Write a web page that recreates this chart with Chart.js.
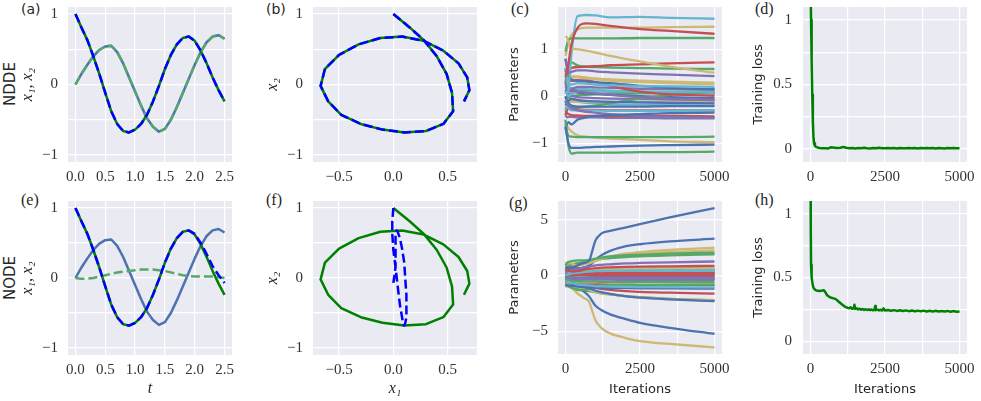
<!DOCTYPE html>
<html><head><meta charset="utf-8">
<script src="https://cdn.jsdelivr.net/npm/chart.js@4.4.0/dist/chart.umd.min.js"></script>
<style>
body{margin:0;background:#fff;width:981px;height:401px;overflow:hidden;position:relative;}
.lab{position:absolute;color:#262626;line-height:1;white-space:nowrap;}
.rot{position:absolute;transform:translate(-50%,-50%) rotate(-90deg);font-family:'DejaVu Sans',sans-serif;font-size:15px;color:#262626;white-space:nowrap;line-height:1;}
</style></head><body>
<div class="lab" style="left:21px;top:2px;font-family:'DejaVu Sans',sans-serif;font-size:14px">(a)</div>
<div class="lab" style="left:266px;top:2px;font-family:'DejaVu Sans',sans-serif;font-size:14px">(b)</div>
<div class="lab" style="left:511px;top:1px;font-family:'Liberation Serif',serif;font-size:16px">(c)</div>
<div class="lab" style="left:755px;top:1px;font-family:'Liberation Serif',serif;font-size:16px">(d)</div>
<div class="lab" style="left:21px;top:192px;font-family:'Liberation Serif',serif;font-size:16px">(e)</div>
<div class="lab" style="left:266px;top:192px;font-family:'Liberation Serif',serif;font-size:16px">(f)</div>
<div class="lab" style="left:509px;top:195px;font-family:'Liberation Serif',serif;font-size:16px">(g)</div>
<div class="lab" style="left:755px;top:192px;font-family:'Liberation Serif',serif;font-size:16px">(h)</div>
<div class="rot" style="left:10px;top:84px">NDDE</div>
<div class="rot" style="left:10px;top:278px">NODE</div>
<script>
// ---------------- DATA ----------------
const t = [0,0.1,0.2,0.3,0.4,0.5,0.6,0.7,0.8,0.9,1.0,1.1,1.2,1.3,1.4,1.5,1.6,1.7,1.8,1.9,2.0,2.1,2.2,2.3,2.4,2.5];
const x1True = [0,0.15,0.28,0.40,0.49,0.54,0.55,0.46,0.30,0.10,-0.10,-0.30,-0.48,-0.60,-0.67,-0.63,-0.50,-0.32,-0.12,0.08,0.28,0.46,0.60,0.68,0.70,0.65];
const x2True = [1.0,0.81,0.63,0.40,0.15,-0.12,-0.38,-0.56,-0.66,-0.68,-0.64,-0.56,-0.43,-0.24,-0.02,0.22,0.42,0.57,0.66,0.68,0.62,0.48,0.30,0.10,-0.08,-0.24];
const x1NDDE = [0,0.15,0.28,0.40,0.49,0.54,0.55,0.46,0.30,0.10,-0.10,-0.30,-0.48,-0.60,-0.67,-0.63,-0.50,-0.32,-0.12,0.08,0.28,0.46,0.60,0.68,0.70,0.65];
const x2NDDE = [1.0,0.81,0.63,0.40,0.15,-0.12,-0.38,-0.56,-0.66,-0.68,-0.64,-0.56,-0.43,-0.24,-0.02,0.22,0.42,0.57,0.66,0.68,0.62,0.48,0.30,0.10,-0.08,-0.24];
const x1NODE = [0,-0.01,-0.01,0.0,0.02,0.04,0.06,0.08,0.09,0.10,0.11,0.12,0.12,0.12,0.11,0.10,0.08,0.06,0.04,0.03,0.02,0.02,0.02,0.02,0.01,0.0];
const x2NODE = [1.0,0.81,0.63,0.40,0.15,-0.12,-0.38,-0.56,-0.66,-0.68,-0.64,-0.56,-0.43,-0.24,-0.02,0.22,0.42,0.57,0.66,0.68,0.63,0.50,0.34,0.17,0.04,-0.07];

const itC = [0,50,100,200,400,700,1000,1500,2500,3500,5000];
const paramsC = [
 [-0.65,-0.85,-1.0,-1.1,-1.1,-1.09,-1.08,-1.07,-1.05,-1.04,-1.03],
 [-0.5,-0.8,-1.05,-1.22,-1.2,-1.2,-1.2,-1.2,-1.19,-1.19,-1.18],
 [0.4,0.5,0.7,1.1,1.45,1.55,1.54,1.5,1.43,1.39,1.33],
 [0.8,0.65,0.5,0.52,0.55,0.55,0.53,0.51,0.48,0.46,0.43],
 [1.28,1.25,1.15,1.02,1.0,0.97,0.93,0.86,0.74,0.63,0.5],
 [0.1,0.05,0.15,0.9,1.7,1.73,1.72,1.68,1.69,1.67,1.65],
 [-0.7,-0.6,-0.55,-0.6,-0.5,-0.45,-0.42,-0.4,-0.38,-0.36,-0.35],
 [0.95,1.1,1.2,1.23,1.23,1.23,1.23,1.23,1.24,1.24,1.24],
 [0.55,0.5,0.55,0.6,0.62,0.63,0.64,0.66,0.68,0.7,0.72],
 [-0.1,-0.15,-0.2,-0.25,-0.3,-0.33,-0.35,-0.38,-0.42,-0.44,-0.46],
 [0.85,1.0,1.15,1.3,1.42,1.46,1.46,1.46,1.46,1.47,1.48],
 [0.6,0.4,0.3,0.25,0.28,0.27,0.25,0.23,0.22,0.21,0.2],
 [0.8,0.6,0.45,0.36,0.33,0.31,0.3,0.28,0.22,0.18,0.15],
 [0.3,0.5,0.65,0.72,0.66,0.63,0.62,0.61,0.6,0.59,0.58],
 [0.6,0.45,0.35,0.33,0.34,0.33,0.3,0.22,0.1,0.04,0.01],
 [0.2,0.15,0.1,0.12,0.1,0.08,0.06,0.03,-0.02,-0.05,-0.08],
 [0.5,0.45,0.42,0.42,0.42,0.4,0.38,0.36,0.33,0.31,0.29],
 [-0.3,-0.2,-0.25,-0.3,-0.3,-0.3,-0.3,-0.31,-0.31,-0.31,-0.3],
 [0.0,-0.1,-0.15,-0.2,-0.22,-0.22,-0.22,-0.22,-0.22,-0.21,-0.21],
 [-0.6,-0.75,-0.84,-0.86,-0.87,-0.87,-0.87,-0.87,-0.87,-0.87,-0.86],
 [-0.4,-0.3,-0.27,-0.28,-0.28,-0.29,-0.29,-0.3,-0.3,-0.3,-0.3],
 [0.3,0.15,0.1,0.15,0.2,0.2,0.19,0.18,0.16,0.15,0.14],
 [-0.55,-0.62,-0.68,-0.75,-0.83,-0.86,-0.88,-0.9,-0.93,-0.96,-0.98],
 [0.1,0.05,0.0,0.05,0.1,0.1,0.1,0.1,0.1,0.1,0.1],
 [-0.2,-0.15,-0.1,-0.05,-0.08,-0.1,-0.11,-0.12,-0.13,-0.14,-0.15],
 [-0.1,-0.2,-0.25,-0.25,-0.24,-0.22,-0.2,-0.15,-0.05,0.03,0.1],
 [-0.3,-0.35,-0.38,-0.4,-0.41,-0.42,-0.42,-0.42,-0.42,-0.42,-0.43],
 [-0.05,0.0,0.05,0.02,-0.02,-0.03,-0.04,-0.05,-0.06,-0.07,-0.08],
 [0.2,0.3,0.38,0.4,0.4,0.38,0.36,0.33,0.3,0.28,0.26],
 [0.5,0.3,0.2,0.18,0.16,0.15,0.14,0.12,0.1,0.08,0.06],
 [0.1,0.15,0.12,0.1,0.08,0.06,0.05,0.03,0.0,-0.02,-0.04],
 [0.0,-0.05,-0.03,0.0,0.02,0.03,0.04,0.05,0.06,0.07,0.08],
 [0.3,0.25,0.2,0.15,0.14,0.13,0.12,0.1,0.08,0.07,0.06],
 [-0.4,-0.45,-0.44,-0.44,-0.45,-0.45,-0.45,-0.46,-0.46,-0.47,-0.47],
 [-0.3,-0.2,-0.15,-0.12,-0.12,-0.12,-0.12,-0.12,-0.12,-0.12,-0.12],
 [-0.1,-0.15,-0.12,-0.1,-0.12,-0.14,-0.15,-0.17,-0.18,-0.19,-0.2]
];

const itG = [0,100,250,400,600,800,900,1000,1200,1500,2000,2500,3500,5000];
const paramsG = [
 [0.6,0.65,0.75,0.9,1.1,1.35,2.2,3.1,3.75,4.0,4.3,4.6,5.2,6.05],
 [0.9,1.2,1.3,1.35,1.35,1.4,1.45,1.5,1.6,1.7,1.8,1.85,1.95,2.05],
 [0.5,0.4,0.35,0.4,0.5,0.6,0.62,0.65,0.7,0.72,0.76,0.79,0.82,0.86],
 [0.3,0.4,0.5,0.6,0.7,0.8,0.85,0.9,0.95,1.0,1.08,1.12,1.18,1.25],
 [1.0,1.2,1.0,0.9,1.0,1.1,1.2,1.3,1.5,1.7,1.95,2.1,2.3,2.5],
 [0.0,0.1,0.2,0.25,0.3,0.35,0.36,0.38,0.4,0.41,0.42,0.43,0.44,0.44],
 [0.8,0.7,0.6,0.6,0.7,0.9,1.1,1.4,1.8,2.2,2.6,2.8,3.05,3.3],
 [0.5,0.8,1.0,1.1,1.2,1.3,1.35,1.4,1.5,1.55,1.65,1.72,1.8,1.9],
 [0.6,0.5,0.4,0.3,0.25,0.22,0.22,0.21,0.21,0.21,0.21,0.21,0.21,0.21],
 [0.0,-0.1,-0.15,-0.2,-0.2,-0.2,-0.2,-0.21,-0.21,-0.22,-0.22,-0.22,-0.23,-0.23],
 [0.8,0.9,0.9,0.9,1.0,1.1,1.2,1.3,1.45,1.6,1.8,1.95,2.1,2.25],
 [-0.5,-0.6,-0.7,-0.8,-0.85,-0.9,-0.92,-0.95,-0.98,-1.0,-1.02,-1.04,-1.05,-1.07],
 [-0.8,-0.9,-0.95,-1.0,-1.05,-1.08,-1.1,-1.1,-1.12,-1.13,-1.14,-1.15,-1.16,-1.18],
 [-0.3,-0.4,-0.5,-0.55,-0.55,-0.55,-0.56,-0.56,-0.57,-0.57,-0.58,-0.58,-0.59,-0.59],
 [-0.2,-0.1,0.0,0.05,0.05,0.03,0.02,0.01,0.0,0.0,0.0,0.0,0.0,0.0],
 [0.2,0.15,0.1,0.1,0.1,0.1,0.1,0.1,0.1,0.1,0.1,0.1,0.1,0.1],
 [0.2,0.3,0.35,0.4,0.45,0.5,0.52,0.55,0.58,0.6,0.62,0.63,0.65,0.66],
 [0.3,0.4,0.5,0.5,0.55,0.55,0.56,0.57,0.58,0.58,0.59,0.6,0.6,0.6],
 [-0.3,-0.5,-0.7,-0.85,-1.0,-1.15,-1.25,-1.35,-1.5,-1.65,-1.85,-2.0,-2.15,-2.3],
 [-0.8,-1.0,-1.15,-1.25,-1.3,-1.2,-1.05,-0.95,-0.9,-0.88,-0.86,-0.85,-0.84,-0.83],
 [-0.5,-0.6,-0.7,-0.8,-0.9,-1.0,-1.05,-1.1,-1.2,-1.3,-1.4,-1.48,-1.55,-1.63],
 [-0.2,-0.3,-0.3,-0.35,-0.35,-0.36,-0.37,-0.37,-0.38,-0.38,-0.39,-0.39,-0.4,-0.4],
 [-0.6,-0.8,-1.0,-1.1,-1.2,-1.3,-1.4,-1.5,-1.6,-1.7,-1.85,-1.95,-2.1,-2.2],
 [-0.2,0.0,0.1,0.15,0.2,0.22,0.24,0.25,0.26,0.27,0.28,0.29,0.3,0.3],
 [-0.5,-0.6,-0.8,-1.0,-1.4,-1.9,-2.3,-2.7,-3.1,-3.5,-3.9,-4.25,-4.7,-5.25],
 [-0.7,-0.9,-1.1,-1.3,-1.35,-1.4,-1.45,-1.5,-1.6,-1.7,-1.85,-1.95,-2.1,-2.25],
 [1.0,0.9,0.8,0.7,0.6,0.55,0.53,0.52,0.51,0.5,0.5,0.5,0.5,0.5],
 [0.1,0.2,0.3,0.4,0.45,0.5,0.5,0.52,0.54,0.55,0.57,0.58,0.59,0.6],
 [-0.5,-0.8,-1.2,-1.6,-2.0,-2.4,-3.2,-4.0,-4.7,-5.2,-5.6,-5.9,-6.15,-6.45],
 [0.1,0.0,-0.1,-0.15,-0.2,-0.22,-0.23,-0.24,-0.25,-0.26,-0.27,-0.28,-0.29,-0.3],
 [-0.1,0.0,0.1,0.15,0.2,0.22,0.23,0.24,0.25,0.26,0.27,0.28,0.29,0.3],
 [-0.5,-0.5,-0.45,-0.4,-0.38,-0.36,-0.35,-0.34,-0.33,-0.32,-0.31,-0.3,-0.3,-0.3],
 [-1.0,-0.9,-0.85,-0.8,-0.8,-0.8,-0.8,-0.8,-0.81,-0.82,-0.83,-0.84,-0.85,-0.86],
 [0.4,0.3,0.2,0.1,0.0,-0.05,-0.06,-0.07,-0.08,-0.08,-0.09,-0.09,-0.1,-0.1],
 [1.2,1.0,0.8,0.6,0.45,0.35,0.32,0.3,0.27,0.25,0.23,0.22,0.21,0.2],
 [-0.6,-0.5,-0.4,-0.3,-0.2,-0.15,-0.12,-0.1,-0.07,-0.05,-0.03,-0.02,-0.01,0.0]
];

const itLossD = [0,20,40,60,80,100,120,150,200,300,
 400,500,600,700,800,900,1000,1100,1200,1300,
 1400,1500,1600,1700,1800,1900,2000,2100,2200,2300,
 2400,2500,2600,2700,2800,2900,3000,3100,3200,3300,
 3400,3500,3600,3700,3800,3900,4000,4100,4200,4300,
 4400,4500,4600,4700,4800,4900,5000];
const lossD = [1.35,1.0,0.68,0.42,0.22,0.1,0.045,0.025,0.015,0.008,
 0.006,0.007,0.005,0.014,0.011,0.008,0.011,0.016,0.01,0.006,
 0.009,0.005,0.008,0.006,0.01,0.007,0.005,0.009,0.006,0.01,
 0.007,0.006,0.009,0.006,0.008,0.005,0.009,0.007,0.006,0.009,
 0.006,0.008,0.005,0.009,0.006,0.008,0.006,0.009,0.005,0.008,
 0.007,0.005,0.009,0.006,0.008,0.006,0.007];

const itLossH = [0,10,20,40,70,100,150,200,300,400,450,500,560,650,750,850,950,1050,1150,
 1250,1300,1350,1400,1450,1475,1500,1550,1600,1650,1700,1750,1800,1850,1900,1950,2000,2050,2100,2150,2170,2190,2250,2300,2350,2400,2450,2500,
 2600,2700,2800,2900,3000,3100,3200,3300,3400,3500,3600,3700,3800,3900,4000,4100,4200,4300,4400,4500,4600,4700,4800,4900,5000];
const lossH = [1.6,0.9,0.6,0.5,0.45,0.42,0.405,0.398,0.395,0.398,0.4,0.385,0.36,0.345,0.338,0.33,0.31,0.29,0.272,
 0.262,0.258,0.266,0.255,0.259,0.286,0.254,0.258,0.25,0.255,0.248,0.253,0.246,0.251,0.245,0.25,0.244,0.249,0.243,0.248,0.276,0.244,0.248,0.242,0.247,0.241,0.258,0.241,
 0.245,0.239,0.244,0.238,0.243,0.237,0.242,0.236,0.241,0.236,0.24,0.235,0.24,0.234,0.239,0.234,0.239,0.233,0.238,0.233,0.238,0.232,0.237,0.232,0.234];

// tick values / labels
const tTicks = [0,0.5,1,1.5,2,2.5], tLabels = ['0.0','0.5','1.0','1.5','2.0','2.5'];
const xyTicks = [-1,-0.5,0,0.5,1], xyLabels = ['\u22121','','0','','1'];
const phaseXTicks = [-0.5,0,0.5], phaseXLabels = ['\u22120.5','0.0','0.5'];
const iterTicks = [0,1250,2500,3750,5000], iterLabels = ['0','','2500','','5000'];
const parCTicks = [-1,0,1], parCLabels = ['\u22121','0','1'];
const parGTicks = [-5,0,5], parGLabels = ['\u22125','0','5'];
const lossTicks = [0,0.25,0.5,0.75,1], lossLabels = ['0','','0.5','','1'];

// ---------------- RENDERING ----------------
const PAL = ['#4C72B0','#55A868','#C44E52','#8172B2','#CCB974','#64B5CD'];
const SERIF = "'Liberation Serif','DejaVu Serif',serif";
const SANS = "'DejaVu Sans','Liberation Sans',sans-serif";
const bgPlugin = {id:'bg', beforeDraw(c){const a=c.chartArea,x=c.ctx;x.save();x.fillStyle='#EAEAF2';x.fillRect(a.left,a.top,a.right-a.left,a.bottom-a.top);x.restore();}};

const zip = (xs, ys) => xs.map((v,i)=>({x:v, y:ys[i]}));
function ln(points, color, width, dash, mono){
  return {data:points, borderColor:color, borderWidth:width, borderDash:dash||[], fill:false, pointRadius:0,
    cubicInterpolationMode: mono?'monotone':'default', tension:0, borderCapStyle:'butt', borderJoinStyle:'round'};
}
function axis(o){
  return {
    type:'linear', min:o.min, max:o.max,
    afterBuildTicks: s => { s.ticks = o.vals.map(v=>({value:v})); },
    afterFit: s => { if(o.w) s.width=o.w; if(o.h) s.height=o.h; s.paddingLeft=s.paddingRight=s.paddingTop=s.paddingBottom=0; },
    ticks:{autoSkip:false, maxRotation:0, minRotation:0, padding:o.pad, color:'#333', font:{family:SERIF,size:15}, callback:(v,i)=>o.labs[i]},
    grid:{color:'#ffffff', lineWidth:1.2, drawTicks:false},
    border:{display:false},
    title: o.title ? {display:true, text:o.title.text, color:'#262626', font:o.title.font, padding:{top:o.title.pad,bottom:o.title.pad}} : {display:false}
  };
}
function panel(g, datasets, xo, yo){
  const rowTop = g.row===0?0:190, rowBot = g.row===0?190:401;
  const cx0 = g.pl-60, cx1 = Math.min(g.pr+14, 981);
  const w = cx1-cx0, h = rowBot-rowTop;
  const cv = document.createElement('canvas');
  cv.width=w; cv.height=h;
  cv.style.cssText=`position:absolute;left:${cx0}px;top:${rowTop}px;width:${w}px;height:${h}px`;
  document.body.appendChild(cv);
  xo.h = rowBot-g.pb; yo.w = 60;
  new Chart(cv.getContext('2d'), {
    type:'line',
    data:{datasets},
    options:{responsive:false, animation:false, events:[],
      layout:{padding:{left:0, top:g.pt-rowTop, right:cx1-g.pr, bottom:0}},
      plugins:{legend:{display:false}, tooltip:{enabled:false}},
      scales:{x:axis(xo), y:axis(yo)}},
    plugins:[bgPlugin]
  });
}
const tItal = (txt, pad) => ({text:txt, font:{family:SERIF, size:16, style:'italic'}, pad});
const tSans = (txt, pad) => ({text:txt, font:{family:SANS, size:13}, pad});

function tsSets(x1p, x2p){
  return [
    ln(zip(t,x2p),'#0000FF',2.5,[9,4]),
    ln(zip(t,x1p),'#55A868',2.5,[9,4]),
    ln(zip(t,x2True),'#008000',2.5),
    ln(zip(t,x1True),'#4C72B0',2.5)
  ];
}
function phSets(x1p, x2p){
  return [
    ln(zip(x1p,x2p),'#0000FF',2.5,[9,4]),
    ln(zip(x1True,x2True),'#008000',2.5)
  ];
}
const parSets = (it, P) => P.map((row,i)=>ln(zip(it,row), PAL[i%6], 2.3, null, true));

panel({pl:68,pr:232,pt:7,pb:162,row:0}, tsSets(x1NDDE,x2NDDE),
  {min:-0.125,max:2.625,vals:tTicks,labs:tLabels,pad:6},
  {min:-1.1,max:1.1,vals:xyTicks,labs:xyLabels,pad:10,title:tItal('x\u2081, x\u2082',10.5)});
panel({pl:313,pr:477,pt:7,pb:162,row:0}, phSets(x1NDDE,x2NDDE),
  {min:-0.74,max:0.77,vals:phaseXTicks,labs:phaseXLabels,pad:6},
  {min:-1.1,max:1.1,vals:xyTicks,labs:xyLabels,pad:10,title:tItal('x\u2082',10.5)});
panel({pl:558,pr:722,pt:7,pb:162,row:0}, parSets(itC,paramsC),
  {min:-250,max:5250,vals:iterTicks,labs:iterLabels,pad:6},
  {min:-1.4,max:1.9,vals:parCTicks,labs:parCLabels,pad:10,title:tSans('Parameters',9.2)});
panel({pl:803,pr:967,pt:7,pb:162,row:0}, [ln(zip(itLossD,lossD),'#008000',2.5)],
  {min:-250,max:5250,vals:iterTicks,labs:iterLabels,pad:6},
  {min:-0.1,max:1.1,vals:lossTicks,labs:lossLabels,pad:11,title:tSans('Training loss',8.2)});

panel({pl:68,pr:232,pt:201,pb:355,row:1}, tsSets(x1NODE,x2NODE),
  {min:-0.125,max:2.625,vals:tTicks,labs:tLabels,pad:6,title:tItal('t',2.5)},
  {min:-1.1,max:1.1,vals:xyTicks,labs:xyLabels,pad:10,title:tItal('x\u2081, x\u2082',10.5)});
panel({pl:313,pr:477,pt:201,pb:355,row:1}, phSets(x1NODE,x2NODE),
  {min:-0.74,max:0.77,vals:phaseXTicks,labs:phaseXLabels,pad:6,title:tItal('x\u2081',2.5)},
  {min:-1.1,max:1.1,vals:xyTicks,labs:xyLabels,pad:10,title:tItal('x\u2082',10.5)});
panel({pl:558,pr:722,pt:201,pb:354,row:1}, parSets(itG,paramsG),
  {min:-250,max:5250,vals:iterTicks,labs:iterLabels,pad:6,title:tSans('Iterations',3.2)},
  {min:-7.05,max:6.68,vals:parGTicks,labs:parGLabels,pad:10,title:tSans('Parameters',9.2)});
panel({pl:803,pr:967,pt:201,pb:354,row:1}, [ln(zip(itLossH,lossH),'#008000',2.5)],
  {min:-250,max:5250,vals:iterTicks,labs:iterLabels,pad:6,title:tSans('Iterations',3.2)},
  {min:-0.1,max:1.1,vals:lossTicks,labs:lossLabels,pad:11,title:tSans('Training loss',8.2)});
</script>
</body></html>
